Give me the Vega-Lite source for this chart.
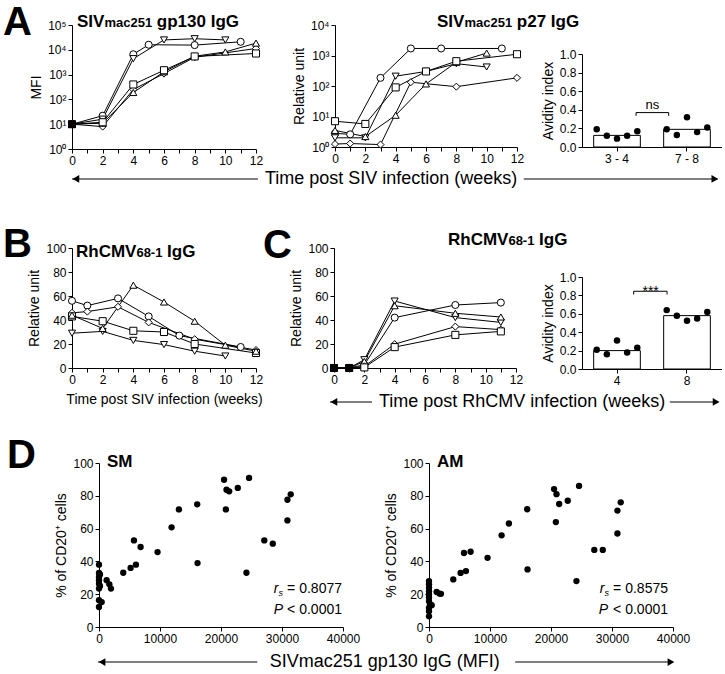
{
"$schema": "https://vega.github.io/schema/vega-lite/v6.json",
"padding": 0,
"background": "white",
"spacing": 0,
"bounds": "flush",
"datasets": {
"a1": [
{"animal":"c","week":0,"value":10},{"animal":"c","week":2,"value":22},{"animal":"c","week":4,"value":6600},{"animal":"c","week":5,"value":16000},{"animal":"c","week":8,"value":15500},{"animal":"c","week":11,"value":21000},
{"animal":"td","week":0,"value":10},{"animal":"td","week":2,"value":16},{"animal":"td","week":4,"value":4400},{"animal":"td","week":6,"value":25000},{"animal":"td","week":8,"value":28000},{"animal":"td","week":10,"value":25000},
{"animal":"d","week":0,"value":10},{"animal":"d","week":2,"value":8},{"animal":"d","week":4,"value":250},{"animal":"d","week":6,"value":1100},{"animal":"d","week":8,"value":5000},{"animal":"d","week":12,"value":11300},
{"animal":"tu","week":0,"value":10},{"animal":"tu","week":2,"value":11},{"animal":"tu","week":4,"value":190},{"animal":"tu","week":6,"value":1300},{"animal":"tu","week":8,"value":5500},{"animal":"tu","week":10,"value":8200},{"animal":"tu","week":12,"value":18600},
{"animal":"s","week":0,"value":10},{"animal":"s","week":2,"value":12},{"animal":"s","week":4,"value":400},{"animal":"s","week":6,"value":1500},{"animal":"s","week":8,"value":5400},{"animal":"s","week":12,"value":7100}
],
"a2": [
{"animal":"c","week":0,"value":2.8},{"animal":"c","week":1,"value":2.6},{"animal":"c","week":3,"value":185},{"animal":"c","week":5,"value":1700},{"animal":"c","week":7,"value":1700},{"animal":"c","week":11,"value":1700},
{"animal":"td","week":0,"value":2},{"animal":"td","week":2,"value":2},{"animal":"td","week":4,"value":210},{"animal":"td","week":6,"value":300},{"animal":"td","week":8,"value":540},{"animal":"td","week":10,"value":420},
{"animal":"tu","week":0,"value":3.5},{"animal":"tu","week":2,"value":2.2},{"animal":"tu","week":4,"value":11},{"animal":"tu","week":6,"value":117},{"animal":"tu","week":8,"value":600},{"animal":"tu","week":10,"value":1200},
{"animal":"d","week":0,"value":1.25},{"animal":"d","week":1,"value":1.3},{"animal":"d","week":3,"value":1.2},{"animal":"d","week":5,"value":133},{"animal":"d","week":8,"value":95},{"animal":"d","week":12,"value":185},
{"animal":"s","week":0,"value":7},{"animal":"s","week":2,"value":5.7},{"animal":"s","week":4,"value":90},{"animal":"s","week":6,"value":300},{"animal":"s","week":8,"value":650},{"animal":"s","week":12,"value":1100}
],
"a3dots": [
{"group":"3 - 4","i":1,"value":0.19},{"group":"3 - 4","i":2,"value":0.12},{"group":"3 - 4","i":3,"value":0.09},{"group":"3 - 4","i":4,"value":0.12},{"group":"3 - 4","i":5,"value":0.17},
{"group":"7 - 8","i":1,"value":0.19},{"group":"7 - 8","i":2,"value":0.13},{"group":"7 - 8","i":3,"value":0.32},{"group":"7 - 8","i":4,"value":0.16},{"group":"7 - 8","i":5,"value":0.21}
],
"a3bars": [{"group":"3 - 4","value":0.125},{"group":"7 - 8","value":0.19}],
"b": [
{"animal":"c","week":0,"value":56},{"animal":"c","week":1,"value":52},{"animal":"c","week":3,"value":58},{"animal":"c","week":5,"value":43},{"animal":"c","week":7,"value":27},{"animal":"c","week":11,"value":17.5},
{"animal":"d","week":0,"value":46},{"animal":"d","week":1,"value":47},{"animal":"d","week":3,"value":51},{"animal":"d","week":5,"value":38},{"animal":"d","week":8,"value":24},{"animal":"d","week":12,"value":15},
{"animal":"s","week":0,"value":43},{"animal":"s","week":2,"value":39},{"animal":"s","week":4,"value":31},{"animal":"s","week":6,"value":30},{"animal":"s","week":8,"value":20},{"animal":"s","week":12,"value":12.5},
{"animal":"td","week":0,"value":29},{"animal":"td","week":2,"value":30.5},{"animal":"td","week":4,"value":23},{"animal":"td","week":6,"value":19.5},{"animal":"td","week":8,"value":14},{"animal":"td","week":10,"value":10},
{"animal":"tu","week":0,"value":44},{"animal":"tu","week":2,"value":33},{"animal":"tu","week":4,"value":69},{"animal":"tu","week":6,"value":55},{"animal":"tu","week":8,"value":39},{"animal":"tu","week":10,"value":19},{"animal":"tu","week":12,"value":14}
],
"c1": [
{"animal":"c","week":0,"value":0},{"animal":"c","week":1,"value":0},{"animal":"c","week":2,"value":2.7},{"animal":"c","week":4,"value":42},{"animal":"c","week":8,"value":52.5},{"animal":"c","week":11,"value":54.5},
{"animal":"td","week":0,"value":0},{"animal":"td","week":1,"value":0},{"animal":"td","week":2,"value":6.9},{"animal":"td","week":4,"value":55.8},{"animal":"td","week":8,"value":42},{"animal":"td","week":11,"value":38},
{"animal":"tu","week":0,"value":0},{"animal":"tu","week":1,"value":0},{"animal":"tu","week":2,"value":5.5},{"animal":"tu","week":4,"value":51.9},{"animal":"tu","week":8,"value":45.6},{"animal":"tu","week":11,"value":42.5},
{"animal":"d","week":0,"value":0},{"animal":"d","week":1,"value":0},{"animal":"d","week":2,"value":1.4},{"animal":"d","week":4,"value":19.9},{"animal":"d","week":8,"value":34.5},{"animal":"d","week":11,"value":32},
{"animal":"s","week":0,"value":0},{"animal":"s","week":1,"value":0},{"animal":"s","week":2,"value":0.5},{"animal":"s","week":4,"value":17.4},{"animal":"s","week":8,"value":27.6},{"animal":"s","week":11,"value":30.5}
],
"c2dots": [
{"group":"4","i":1,"value":0.21},{"group":"4","i":2,"value":0.16},{"group":"4","i":3,"value":0.31},{"group":"4","i":4,"value":0.18},{"group":"4","i":5,"value":0.23},
{"group":"8","i":1,"value":0.64},{"group":"8","i":2,"value":0.58},{"group":"8","i":3,"value":0.525},{"group":"8","i":4,"value":0.55},{"group":"8","i":5,"value":0.62}
],
"c2bars": [{"group":"4","value":0.2},{"group":"8","value":0.58}],
"sm": [
{"mfi":0,"pct":38},{"mfi":0,"pct":33},{"mfi":160,"pct":32},{"mfi":0,"pct":30.5},{"mfi":0,"pct":28.5},{"mfi":0,"pct":26.4},{"mfi":160,"pct":25},{"mfi":0,"pct":23.4},{"mfi":0,"pct":16.3},{"mfi":0,"pct":12.2},{"mfi":440,"pct":15.2},
{"mfi":1250,"pct":28.5},{"mfi":1700,"pct":26},{"mfi":1960,"pct":23.4},{"mfi":3980,"pct":33.1},{"mfi":5180,"pct":36},{"mfi":5730,"pct":52.8},{"mfi":6060,"pct":38},{"mfi":6820,"pct":48.8},{"mfi":9600,"pct":45.7},
{"mfi":11900,"pct":60.8},{"mfi":13100,"pct":71.7},{"mfi":16100,"pct":74.8},{"mfi":16150,"pct":39},{"mfi":20500,"pct":89.8},{"mfi":20900,"pct":83.7},{"mfi":21340,"pct":82.7},{"mfi":20800,"pct":71.7},
{"mfi":22750,"pct":84.8},{"mfi":24600,"pct":90.9},{"mfi":24170,"pct":33.1},{"mfi":27100,"pct":52.8},{"mfi":28490,"pct":50.8},{"mfi":30890,"pct":65},{"mfi":30890,"pct":77.6},{"mfi":31430,"pct":80.9}
],
"am": [
{"mfi":0,"pct":28},{"mfi":0,"pct":26},{"mfi":0,"pct":24},{"mfi":0,"pct":21.8},{"mfi":0,"pct":19.8},{"mfi":0,"pct":17.8},{"mfi":0,"pct":15.7},{"mfi":160,"pct":13.7},{"mfi":0,"pct":11.6},{"mfi":0,"pct":9.6},{"mfi":0,"pct":6.5},{"mfi":440,"pct":13.3},
{"mfi":1250,"pct":21.4},{"mfi":1700,"pct":20.4},{"mfi":1960,"pct":20.2},{"mfi":3980,"pct":29},{"mfi":5180,"pct":33},{"mfi":5730,"pct":45.1},{"mfi":6060,"pct":34.1},{"mfi":6820,"pct":45.9},{"mfi":9600,"pct":42.2},
{"mfi":11900,"pct":55.9},{"mfi":13100,"pct":63.1},{"mfi":16100,"pct":71.8},{"mfi":16150,"pct":35.1},{"mfi":20500,"pct":84.1},{"mfi":20900,"pct":81},{"mfi":21340,"pct":75},{"mfi":20800,"pct":64},
{"mfi":22750,"pct":77},{"mfi":24600,"pct":86},{"mfi":24170,"pct":28},{"mfi":27100,"pct":47},{"mfi":28490,"pct":47},{"mfi":30890,"pct":57},{"mfi":30890,"pct":71},{"mfi":31430,"pct":76}
]
},
"vconcat": [
{"width":0,"height":25,"data":{"values":[]},"mark":"point"},
{"spacing":0,"bounds":"flush","hconcat":[
{"width":72,"height":0,"data":{"values":[]},"mark":"point"},
{
"width":184,"height":124,
"resolve":{"axis":{"x":"independent","y":"independent"}},
"layer":[
{"data":{"name":"a1"},"mark":{"type":"line","color":"black","strokeWidth":1},"encoding":{
"x":{"field":"week","type":"quantitative","scale":{"domain":[0,12],"nice":false},"axis":{"orient":"bottom","values":[0,1,2,3,4,5,6,7,8,9,10,11,12],"labelExpr":"datum.value % 2 == 0 ? datum.label : ''","title":null}},
"y":{"field":"value","type":"quantitative","scale":{"type":"log","domain":[1,100000],"nice":false},"axis":{"orient":"left","values":[1,10,100,1000,10000,100000],"labelExpr":"'10' + ['⁰','¹','²','³','⁴','⁵'][round(log(datum.value)/LN10)]","title":"MFI"}},
"detail":{"field":"animal","type":"nominal"}}},
{"data":{"name":"a1"},"mark":{"type":"point","filled":true,"stroke":"black","strokeWidth":1,"size":50,"opacity":1},"encoding":{
"x":{"field":"week","type":"quantitative","axis":null},"y":{"field":"value","type":"quantitative","axis":null},
"shape":{"field":"animal","type":"nominal","scale":{"domain":["c","td","s","d","tu"],"range":["circle","triangle-down","square","diamond","triangle-up"]},"legend":null},"fill":{"condition":{"test":"datum.week == 0","value":"black"},"value":"white"}}},
{"data":{"values":[{}]},"mark":{"type":"text","text":"A","fontSize":40,"fontWeight":"bold","color":"black","align":"left","baseline":"alphabetic","dx":-69,"dy":10},"encoding":{"x":{"datum":0,"axis":null},"y":{"datum":100000,"axis":null}}},
{"data":{"values":[{}]},"mark":{"type":"text","text":"SIV","fontSize":17,"fontWeight":"bold","color":"black","align":"left","baseline":"alphabetic","dx":5,"dy":2},"encoding":{"x":{"datum":0,"axis":null},"y":{"datum":100000,"axis":null}}},
{"data":{"values":[{}]},"mark":{"type":"text","text":"mac251","fontSize":13,"fontWeight":"bold","color":"black","align":"left","baseline":"alphabetic","dx":32.4,"dy":2},"encoding":{"x":{"datum":0,"axis":null},"y":{"datum":100000,"axis":null}}},
{"data":{"values":[{}]},"mark":{"type":"text","text":"gp130 IgG","fontSize":17,"fontWeight":"bold","color":"black","align":"left","baseline":"alphabetic","dx":84.8,"dy":2},"encoding":{"x":{"datum":0,"axis":null},"y":{"datum":100000,"axis":null}}}
]
},
{"width":79,"height":0,"data":{"values":[]},"mark":"point"},
{
"width":182,"height":122,
"resolve":{"axis":{"x":"independent","y":"independent"}},
"layer":[
{"data":{"name":"a2"},"mark":{"type":"line","color":"black","strokeWidth":1},"encoding":{
"x":{"field":"week","type":"quantitative","scale":{"domain":[0,12],"nice":false},"axis":{"orient":"bottom","values":[0,1,2,3,4,5,6,7,8,9,10,11,12],"labelExpr":"datum.value % 2 == 0 ? datum.label : ''","title":null}},
"y":{"field":"value","type":"quantitative","scale":{"type":"log","domain":[1,10000],"nice":false},"axis":{"orient":"left","values":[1,10,100,1000,10000],"labelExpr":"'10' + ['⁰','¹','²','³','⁴','⁵'][round(log(datum.value)/LN10)]","title":"Relative unit"}},
"detail":{"field":"animal","type":"nominal"}}},
{"data":{"name":"a2"},"mark":{"type":"point","filled":true,"fill":"white","stroke":"black","strokeWidth":1,"size":50,"opacity":1},"encoding":{
"x":{"field":"week","type":"quantitative","axis":null},"y":{"field":"value","type":"quantitative","axis":null},
"shape":{"field":"animal","type":"nominal","scale":{"domain":["c","td","s","d","tu"],"range":["circle","triangle-down","square","diamond","triangle-up"]},"legend":null}}},
{"data":{"values":[{}]},"mark":{"type":"text","text":"SIV","fontSize":17,"fontWeight":"bold","color":"black","align":"left","baseline":"alphabetic","dx":102,"dy":2},"encoding":{"x":{"datum":0,"axis":null},"y":{"datum":10000,"axis":null}}},
{"data":{"values":[{}]},"mark":{"type":"text","text":"mac251","fontSize":13,"fontWeight":"bold","color":"black","align":"left","baseline":"alphabetic","dx":129.4,"dy":2},"encoding":{"x":{"datum":0,"axis":null},"y":{"datum":10000,"axis":null}}},
{"data":{"values":[{}]},"mark":{"type":"text","text":"p27 IgG","fontSize":17,"fontWeight":"bold","color":"black","align":"left","baseline":"alphabetic","dx":181.8,"dy":2},"encoding":{"x":{"datum":0,"axis":null},"y":{"datum":10000,"axis":null}}}
]
},
{"width":65,"height":0,"data":{"values":[]},"mark":"point"},
{
"width":140,"height":122,
"resolve":{"scale":{"xOffset":"independent"},"axis":{"x":"independent","y":"independent"}},
"layer":[
{"data":{"name":"a3bars"},"mark":{"type":"bar","fill":"white","stroke":"black","strokeWidth":1,"width":{"band":1}},"encoding":{
"x":{"field":"group","type":"nominal","scale":{"domain":["3 - 4","7 - 8"],"paddingInner":0.3333,"paddingOuter":0.1667},"axis":{"orient":"bottom","title":null,"labelAngle":0,"bandPosition":0.5}},
"y":{"field":"value","type":"quantitative","scale":{"domain":[0,1],"range":[122,29],"nice":false},"axis":{"orient":"left","values":[0,0.2,0.4,0.6,0.8,1.0],"format":".1f","title":"Avidity index"}}}},
{"data":{"name":"a3dots"},"mark":{"type":"circle","color":"black","size":42,"opacity":1},"encoding":{
"x":{"field":"group","type":"nominal","axis":null},"y":{"field":"value","type":"quantitative","axis":null},
"xOffset":{"field":"i","type":"nominal","scale":{"paddingOuter":0.3}}}},
{"data":{"values":[{}]},"mark":{"type":"rule","color":"black","strokeWidth":1},"encoding":{"x":{"datum":"3 - 4","type":"nominal","bandPosition":0.908,"axis":null},"x2":{"datum":"7 - 8","bandPosition":0.107},"y":{"datum":0.37,"type":"quantitative","axis":null}}},
{"data":{"values":[{}]},"mark":{"type":"rule","color":"black","strokeWidth":1},"encoding":{"x":{"datum":"3 - 4","type":"nominal","bandPosition":0.908,"axis":null},"y":{"datum":0.37,"type":"quantitative","axis":null},"y2":{"datum":0.335}}},
{"data":{"values":[{}]},"mark":{"type":"rule","color":"black","strokeWidth":1},"encoding":{"x":{"datum":"7 - 8","type":"nominal","bandPosition":0.107,"axis":null},"y":{"datum":0.37,"type":"quantitative","axis":null},"y2":{"datum":0.335}}},
{"data":{"values":[{}]},"mark":{"type":"text","text":"ns","fontSize":13,"color":"black","align":"center","baseline":"alphabetic","dy":-4},"encoding":{"x":{"datum":"3 - 4","type":"nominal","bandPosition":1.257,"axis":null},"y":{"datum":0.37,"type":"quantitative","axis":null}}}
]
}
]},
{"width":0,"height":124,"data":{"values":[]},"mark":"point"},
{"spacing":0,"bounds":"flush","hconcat":[
{"width":72,"height":0,"data":{"values":[]},"mark":"point"},
{
"width":650,"height":99,
"data":{"values":[{}]},
"layer":[
{"mark":{"type":"rule","color":"black","strokeWidth":1.2},"encoding":{"x":{"datum":0,"type":"quantitative","scale":{"domain":[0,1],"nice":false},"axis":null},"x2":{"datum":0.286},"y":{"datum":0.697,"type":"quantitative","scale":{"domain":[0,1],"nice":false},"axis":null}}},
{"mark":{"type":"rule","color":"black","strokeWidth":1.2},"encoding":{"x":{"datum":0.695,"axis":null},"x2":{"datum":0.993},"y":{"datum":0.697,"axis":null}}},
{"mark":{"type":"point","shape":"triangle-left","filled":true,"color":"black","size":60,"opacity":1},"encoding":{"x":{"datum":0.006,"axis":null},"y":{"datum":0.697,"axis":null}}},
{"mark":{"type":"point","shape":"triangle-right","filled":true,"color":"black","size":60,"opacity":1},"encoding":{"x":{"datum":0.989,"axis":null},"y":{"datum":0.697,"axis":null}}},
{"mark":{"type":"text","text":"Time post SIV infection (weeks)","fontSize":18,"color":"black","align":"center","baseline":"alphabetic","dy":5},"encoding":{"x":{"datum":0.491,"axis":null},"y":{"datum":0.697,"axis":null}}}
]
}
]},
{"width":0,"height":99,"data":{"values":[]},"mark":"point"},
{"spacing":0,"bounds":"flush","hconcat":[
{"width":72,"height":0,"data":{"values":[]},"mark":"point"},
{
"width":184,"height":120,
"resolve":{"axis":{"x":"independent","y":"independent"}},
"layer":[
{"data":{"name":"b"},"mark":{"type":"line","color":"black","strokeWidth":1},"encoding":{
"x":{"field":"week","type":"quantitative","scale":{"domain":[0,12],"nice":false},"axis":{"orient":"bottom","values":[0,1,2,3,4,5,6,7,8,9,10,11,12],"labelExpr":"datum.value % 2 == 0 ? datum.label : ''","title":"Time post SIV infection (weeks)","titlePadding":7}},
"y":{"field":"value","type":"quantitative","scale":{"domain":[0,100],"nice":false},"axis":{"orient":"left","values":[0,20,40,60,80,100],"title":"Relative unit"}},
"detail":{"field":"animal","type":"nominal"}}},
{"data":{"name":"b"},"mark":{"type":"point","filled":true,"fill":"white","stroke":"black","strokeWidth":1,"size":50,"opacity":1},"encoding":{
"x":{"field":"week","type":"quantitative","axis":null},"y":{"field":"value","type":"quantitative","axis":null},
"shape":{"field":"animal","type":"nominal","scale":{"domain":["c","td","s","d","tu"],"range":["circle","triangle-down","square","diamond","triangle-up"]},"legend":null}}},
{"data":{"values":[{}]},"mark":{"type":"text","text":"B","fontSize":40,"fontWeight":"bold","color":"black","align":"left","baseline":"alphabetic","dx":-69,"dy":9},"encoding":{"x":{"datum":0,"axis":null},"y":{"datum":100,"axis":null}}},
{"data":{"values":[{}]},"mark":{"type":"text","text":"RhCMV","fontSize":17,"fontWeight":"bold","color":"black","align":"left","baseline":"alphabetic","dx":4,"dy":8.7},"encoding":{"x":{"datum":0,"axis":null},"y":{"datum":100,"axis":null}}},
{"data":{"values":[{}]},"mark":{"type":"text","text":"68-1","fontSize":13,"fontWeight":"bold","color":"black","align":"left","baseline":"alphabetic","dx":64.4,"dy":8.7},"encoding":{"x":{"datum":0,"axis":null},"y":{"datum":100,"axis":null}}},
{"data":{"values":[{}]},"mark":{"type":"text","text":"IgG","fontSize":17,"fontWeight":"bold","color":"black","align":"left","baseline":"alphabetic","dx":95.1,"dy":8.7},"encoding":{"x":{"datum":0,"axis":null},"y":{"datum":100,"axis":null}}}
]
},
{"width":78,"height":0,"data":{"values":[]},"mark":"point"},
{
"width":182,"height":120,
"resolve":{"axis":{"x":"independent","y":"independent"}},
"layer":[
{"data":{"name":"c1"},"mark":{"type":"line","color":"black","strokeWidth":1},"encoding":{
"x":{"field":"week","type":"quantitative","scale":{"domain":[0,12],"nice":false},"axis":{"orient":"bottom","values":[0,1,2,3,4,5,6,7,8,9,10,11,12],"labelExpr":"datum.value % 2 == 0 ? datum.label : ''","title":null}},
"y":{"field":"value","type":"quantitative","scale":{"domain":[0,100],"nice":false},"axis":{"orient":"left","values":[0,20,40,60,80,100],"title":"Relative unit"}},
"detail":{"field":"animal","type":"nominal"}}},
{"data":{"name":"c1"},"mark":{"type":"point","filled":true,"stroke":"black","strokeWidth":1,"size":50,"opacity":1},"encoding":{
"x":{"field":"week","type":"quantitative","axis":null},"y":{"field":"value","type":"quantitative","axis":null},
"shape":{"field":"animal","type":"nominal","scale":{"domain":["c","td","s","d","tu"],"range":["circle","triangle-down","square","diamond","triangle-up"]},"legend":null},"fill":{"condition":{"test":"datum.value == 0","value":"black"},"value":"white"}}},
{"data":{"values":[{}]},"mark":{"type":"text","text":"C","fontSize":40,"fontWeight":"bold","color":"black","align":"left","baseline":"alphabetic","dx":-71,"dy":10},"encoding":{"x":{"datum":0,"axis":null},"y":{"datum":100,"axis":null}}},
{"data":{"values":[{}]},"mark":{"type":"text","text":"RhCMV","fontSize":17,"fontWeight":"bold","color":"black","align":"left","baseline":"alphabetic","dx":114,"dy":-3},"encoding":{"x":{"datum":0,"axis":null},"y":{"datum":100,"axis":null}}},
{"data":{"values":[{}]},"mark":{"type":"text","text":"68-1","fontSize":13,"fontWeight":"bold","color":"black","align":"left","baseline":"alphabetic","dx":174.4,"dy":-3},"encoding":{"x":{"datum":0,"axis":null},"y":{"datum":100,"axis":null}}},
{"data":{"values":[{}]},"mark":{"type":"text","text":"IgG","fontSize":17,"fontWeight":"bold","color":"black","align":"left","baseline":"alphabetic","dx":205.1,"dy":-3},"encoding":{"x":{"datum":0,"axis":null},"y":{"datum":100,"axis":null}}}
]
},
{"width":66,"height":0,"data":{"values":[]},"mark":"point"},
{
"width":140,"height":121,
"resolve":{"scale":{"xOffset":"independent"},"axis":{"x":"independent","y":"independent"}},
"layer":[
{"data":{"name":"c2bars"},"mark":{"type":"bar","fill":"white","stroke":"black","strokeWidth":1,"width":{"band":1}},"encoding":{
"x":{"field":"group","type":"nominal","scale":{"domain":["4","8"],"paddingInner":0.3333,"paddingOuter":0.1667},"axis":{"orient":"bottom","title":null,"labelAngle":0,"bandPosition":0.5}},
"y":{"field":"value","type":"quantitative","scale":{"domain":[0,1],"range":[121,29],"nice":false},"axis":{"orient":"left","values":[0,0.2,0.4,0.6,0.8,1.0],"format":".1f","title":"Avidity index"}}}},
{"data":{"name":"c2dots"},"mark":{"type":"circle","color":"black","size":42,"opacity":1},"encoding":{
"x":{"field":"group","type":"nominal","axis":null},"y":{"field":"value","type":"quantitative","axis":null},
"xOffset":{"field":"i","type":"nominal","scale":{"paddingOuter":0.3}}}},
{"data":{"values":[{}]},"mark":{"type":"rule","color":"black","strokeWidth":1},"encoding":{"x":{"datum":"4","type":"nominal","bandPosition":0.857,"axis":null},"x2":{"datum":"8","bandPosition":0.073},"y":{"datum":0.845,"type":"quantitative","axis":null}}},
{"data":{"values":[{}]},"mark":{"type":"rule","color":"black","strokeWidth":1},"encoding":{"x":{"datum":"4","type":"nominal","bandPosition":0.857,"axis":null},"y":{"datum":0.845,"type":"quantitative","axis":null},"y2":{"datum":0.81}}},
{"data":{"values":[{}]},"mark":{"type":"rule","color":"black","strokeWidth":1},"encoding":{"x":{"datum":"8","type":"nominal","bandPosition":0.073,"axis":null},"y":{"datum":0.845,"type":"quantitative","axis":null},"y2":{"datum":0.81}}},
{"data":{"values":[{}]},"mark":{"type":"text","text":"***","fontSize":14,"color":"black","align":"center","baseline":"alphabetic","dy":5},"encoding":{"x":{"datum":"4","type":"nominal","bandPosition":1.22,"axis":null},"y":{"datum":0.845,"type":"quantitative","axis":null}}}
]
}
]},
{"width":0,"height":121,"data":{"values":[]},"mark":"point"},
{"spacing":0,"bounds":"flush","hconcat":[
{"width":330,"height":0,"data":{"values":[]},"mark":"point"},
{
"width":392,"height":94,
"data":{"values":[{}]},
"layer":[
{"mark":{"type":"rule","color":"black","strokeWidth":1.2},"encoding":{"x":{"datum":0,"type":"quantitative","scale":{"domain":[0,1],"nice":false},"axis":null},"x2":{"datum":0.107},"y":{"datum":0.649,"type":"quantitative","scale":{"domain":[0,1],"nice":false},"axis":null}}},
{"mark":{"type":"rule","color":"black","strokeWidth":1.2},"encoding":{"x":{"datum":0.867,"axis":null},"x2":{"datum":0.99},"y":{"datum":0.649,"axis":null}}},
{"mark":{"type":"point","shape":"triangle-left","filled":true,"color":"black","size":60,"opacity":1},"encoding":{"x":{"datum":0.01,"axis":null},"y":{"datum":0.649,"axis":null}}},
{"mark":{"type":"point","shape":"triangle-right","filled":true,"color":"black","size":60,"opacity":1},"encoding":{"x":{"datum":0.985,"axis":null},"y":{"datum":0.649,"axis":null}}},
{"mark":{"type":"text","text":"Time post RhCMV infection (weeks)","fontSize":18,"color":"black","align":"center","baseline":"alphabetic","dy":5},"encoding":{"x":{"datum":0.49,"axis":null},"y":{"datum":0.649,"axis":null}}}
]
}
]},
{"width":0,"height":94,"data":{"values":[]},"mark":"point"},
{"spacing":0,"bounds":"flush","hconcat":[
{"width":99,"height":0,"data":{"values":[]},"mark":"point"},
{
"width":244,"height":164,
"resolve":{"axis":{"x":"independent","y":"independent"}},
"layer":[
{"data":{"name":"sm"},"mark":{"type":"circle","color":"black","size":40,"opacity":1},"encoding":{
"x":{"field":"mfi","type":"quantitative","scale":{"domain":[0,40000],"nice":false},"axis":{"orient":"bottom","values":[0,10000,20000,30000,40000],"format":"d","title":null}},
"y":{"field":"pct","type":"quantitative","scale":{"domain":[0,100],"nice":false},"axis":{"orient":"left","values":[0,20,40,60,80,100],"title":"% of CD20⁺ cells"}}}},
{"data":{"values":[{}]},"mark":{"type":"text","text":"D","fontSize":40,"fontWeight":"bold","color":"black","align":"left","baseline":"alphabetic","dx":-92,"dy":5},"encoding":{"x":{"datum":0,"axis":null},"y":{"datum":100,"axis":null}}},
{"data":{"values":[{}]},"mark":{"type":"text","text":"SM","fontSize":17,"fontWeight":"bold","color":"black","align":"left","baseline":"alphabetic","dx":8,"dy":4},"encoding":{"x":{"datum":0,"axis":null},"y":{"datum":100,"axis":null}}},
{"data":{"values":[{}]},"mark":{"type":"text","text":"= 0.8077","fontSize":14,"color":"black","align":"right","baseline":"alphabetic","dx":-1},"encoding":{"x":{"datum":40000,"axis":null},"y":{"datum":21,"axis":null}}},
{"data":{"values":[{}]},"mark":{"type":"text","text":"s","fontSize":9,"fontStyle":"italic","color":"black","align":"right","baseline":"alphabetic","dx":-60,"dy":3},"encoding":{"x":{"datum":40000,"axis":null},"y":{"datum":21,"axis":null}}},
{"data":{"values":[{}]},"mark":{"type":"text","text":"r","fontSize":14,"fontStyle":"italic","color":"black","align":"right","baseline":"alphabetic","dx":-64.5},"encoding":{"x":{"datum":40000,"axis":null},"y":{"datum":21,"axis":null}}},
{"data":{"values":[{}]},"mark":{"type":"text","text":"< 0.0001","fontSize":14,"color":"black","align":"right","baseline":"alphabetic","dx":-1},"encoding":{"x":{"datum":40000,"axis":null},"y":{"datum":8.2,"axis":null}}},
{"data":{"values":[{}]},"mark":{"type":"text","text":"P","fontSize":14,"fontStyle":"italic","color":"black","align":"right","baseline":"alphabetic","dx":-60},"encoding":{"x":{"datum":40000,"axis":null},"y":{"datum":8.2,"axis":null}}}
]
},
{"width":86,"height":0,"data":{"values":[]},"mark":"point"},
{
"width":244,"height":164,
"resolve":{"axis":{"x":"independent","y":"independent"}},
"layer":[
{"data":{"name":"am"},"mark":{"type":"circle","color":"black","size":40,"opacity":1},"encoding":{
"x":{"field":"mfi","type":"quantitative","scale":{"domain":[0,40000],"nice":false},"axis":{"orient":"bottom","values":[0,10000,20000,30000,40000],"format":"d","title":null}},
"y":{"field":"pct","type":"quantitative","scale":{"domain":[0,100],"nice":false},"axis":{"orient":"left","values":[0,20,40,60,80,100],"title":"% of CD20⁺ cells"}}}},
{"data":{"values":[{}]},"mark":{"type":"text","text":"AM","fontSize":17,"fontWeight":"bold","color":"black","align":"left","baseline":"alphabetic","dx":8,"dy":4},"encoding":{"x":{"datum":0,"axis":null},"y":{"datum":100,"axis":null}}},
{"data":{"values":[{}]},"mark":{"type":"text","text":"= 0.8575","fontSize":14,"color":"black","align":"right","baseline":"alphabetic","dx":-5},"encoding":{"x":{"datum":40000,"axis":null},"y":{"datum":20.8,"axis":null}}},
{"data":{"values":[{}]},"mark":{"type":"text","text":"s","fontSize":9,"fontStyle":"italic","color":"black","align":"right","baseline":"alphabetic","dx":-64,"dy":3},"encoding":{"x":{"datum":40000,"axis":null},"y":{"datum":20.8,"axis":null}}},
{"data":{"values":[{}]},"mark":{"type":"text","text":"r","fontSize":14,"fontStyle":"italic","color":"black","align":"right","baseline":"alphabetic","dx":-68.5},"encoding":{"x":{"datum":40000,"axis":null},"y":{"datum":20.8,"axis":null}}},
{"data":{"values":[{}]},"mark":{"type":"text","text":"< 0.0001","fontSize":14,"color":"black","align":"right","baseline":"alphabetic","dx":-5},"encoding":{"x":{"datum":40000,"axis":null},"y":{"datum":8.2,"axis":null}}},
{"data":{"values":[{}]},"mark":{"type":"text","text":"P","fontSize":14,"fontStyle":"italic","color":"black","align":"right","baseline":"alphabetic","dx":-65},"encoding":{"x":{"datum":40000,"axis":null},"y":{"datum":8.2,"axis":null}}}
]
}
]},
{"width":0,"height":164,"data":{"values":[]},"mark":"point"},
{"spacing":0,"bounds":"flush","hconcat":[
{"width":98,"height":0,"data":{"values":[]},"mark":"point"},
{
"width":577,"height":47,
"data":{"values":[{}]},
"layer":[
{"mark":{"type":"rule","color":"black","strokeWidth":1.2},"encoding":{"x":{"datum":0,"type":"quantitative","scale":{"domain":[0,1],"nice":false},"axis":null},"x2":{"datum":0.276},"y":{"datum":0.255,"type":"quantitative","scale":{"domain":[0,1],"nice":false},"axis":null}}},
{"mark":{"type":"rule","color":"black","strokeWidth":1.2},"encoding":{"x":{"datum":0.723,"axis":null},"x2":{"datum":0.995},"y":{"datum":0.255,"axis":null}}},
{"mark":{"type":"point","shape":"triangle-left","filled":true,"color":"black","size":60,"opacity":1},"encoding":{"x":{"datum":0.007,"axis":null},"y":{"datum":0.255,"axis":null}}},
{"mark":{"type":"point","shape":"triangle-right","filled":true,"color":"black","size":60,"opacity":1},"encoding":{"x":{"datum":0.993,"axis":null},"y":{"datum":0.255,"axis":null}}},
{"mark":{"type":"text","text":"SIVmac251 gp130 IgG (MFI)","fontSize":18,"color":"black","align":"center","baseline":"alphabetic","dy":5},"encoding":{"x":{"datum":0.497,"axis":null},"y":{"datum":0.255,"axis":null}}}
]
}
]},
{"width":0,"height":47,"data":{"values":[]},"mark":"point"}
],
"config": {
"font": "Liberation Sans",
"view": {"stroke": null},
"axis": {"domainColor": "black", "tickColor": "black", "labelColor": "black", "titleColor": "black", "labelFontSize": 12, "titleFontSize": 14, "titleFontWeight": "normal", "grid": false, "tickSize": 4, "labelFlush": false, "labelOverlap": false, "labelPadding": 2, "titlePadding": 4}
}
}
